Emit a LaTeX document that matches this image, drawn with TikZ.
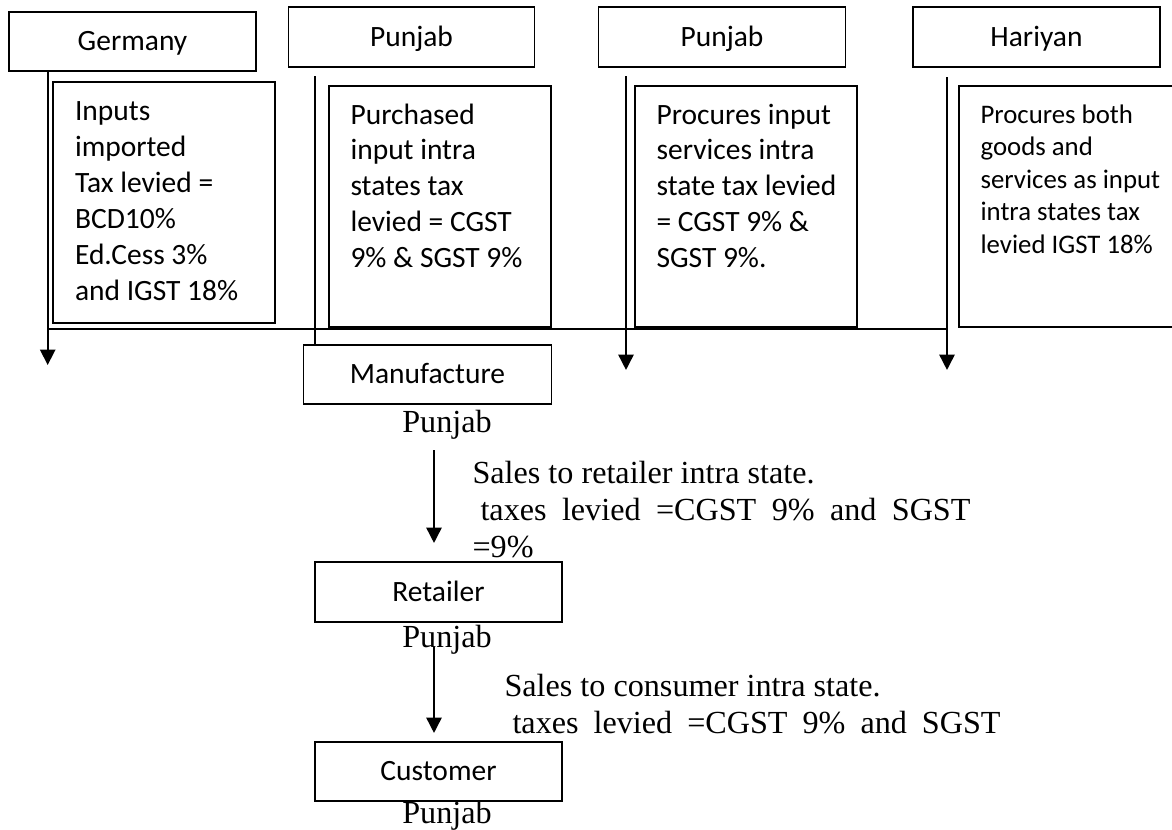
\documentclass[tikz,border=0pt]{standalone}
\usepackage{fontspec}
\setmainfont{Liberation Serif}
\newfontfamily\calib{Carlito}
\usetikzlibrary{arrows.meta}
% one drawing unit, used for all positions and box sizes
\def\pxu{0.3731pt}

\begin{document}
\begin{tikzpicture}[x=0.3731pt, y=-0.3731pt,
  frame/.style={draw, line width=0.6pt, inner sep=0pt},
  lab/.style={font=\calib\fontsize{11}{13.42}\selectfont, text height=6.95pt, text depth=0pt},
  txt/.style={anchor=base west, inner sep=0pt, font=\calib\fontsize{11}{13.42}\selectfont},
  txtsmall/.style={anchor=base west, inner sep=0pt, font=\calib\fontsize{10}{12.13}\selectfont},
  serif/.style={inner sep=0pt, font=\fontsize{12}{13.8}\selectfont},
  conn/.style={line width=0.85pt},
  arrow/.style={conn, -{Triangle[length=5.7pt, width=5.6pt]}}]

\useasboundingbox (0,0) rectangle (1172,829);

% origin and supplier states
\node[frame, lab, minimum width=247*\pxu, minimum height=59*\pxu] (ger)  at (132.5,41.5) {Germany};
\node[frame, lab, minimum width=246*\pxu, minimum height=60*\pxu] (pun1) at (411.5,37)   {Punjab};
\node[frame, lab, minimum width=247*\pxu, minimum height=60*\pxu] (pun2) at (722,37)     {Punjab};
\node[frame, lab, minimum width=247*\pxu, minimum height=60*\pxu] (har)  at (1036.5,37)  {Hariyan};

% tax description boxes (the last one runs past the right edge of the page)
\node[frame, minimum width=222*\pxu, minimum height=241*\pxu] (inp)  at (164,202.5)    {};
\node[frame, minimum width=222*\pxu, minimum height=241*\pxu] (pur)  at (440,206.5)    {};
\node[frame, minimum width=222*\pxu, minimum height=241*\pxu] (proc) at (746,206.5)    {};
\node[frame, minimum width=227*\pxu, minimum height=241*\pxu] (both) at (1072.5,206.5) {};

\node[txt] (inpT) at (74.5,120.5) {\vtop{\hbox{Inputs}\hbox{imported}\hbox{Tax levied =}\hbox{BCD10\%}\hbox{Ed.Cess 3\%}\hbox{and IGST 18\%}}};
\node[txt] (purT) at (350,124) {\vtop{\hbox{Purchased}\hbox{input intra}\hbox{states tax}\hbox{levied = CGST}\hbox{9\% \& SGST 9\%}}};
\node[txt] (procT) at (656,124) {\vtop{\hbox{Procures input}\hbox{services intra}\hbox{state tax levied}\hbox{= CGST 9\% \&}\hbox{SGST 9\%.}}};
\node[txtsmall] (bothT) at (980,123) {\vtop{\hbox{Procures both}\hbox{goods and}\hbox{services as input}\hbox{intra states tax}\hbox{levied IGST 18\%}}};

% supply chain in Punjab
\node[frame, lab, minimum width=248*\pxu, minimum height=59*\pxu] (man) at (427.5,374.5) {Manufacture};
\node[frame, lab, minimum width=247*\pxu, minimum height=60*\pxu] (ret) at (438.5,592)   {Retailer};
\node[frame, lab, minimum width=247*\pxu, minimum height=59*\pxu] (cus) at (438.5,771.5) {Customer};

\node[serif, anchor=base] (manP) at (447,432) {Punjab};
\node[serif, anchor=base] (retP) at (447,647) {Punjab};
\node[serif, anchor=base] (cusP) at (447,823) {Punjab};

% sale descriptions
\node[serif, anchor=base west] (s1a) at (472,483) {Sales to retailer intra state.};
\node[serif, anchor=base west] (s1b) at (480,520) {\makebox[182.8pt][s]{taxes levied =CGST 9\% and SGST}};
\node[serif, anchor=base west] (s1c) at (472,557) {=9\%};
\node[serif, anchor=base west] (s2a) at (504,696) {Sales to consumer intra state.};
\node[serif, anchor=base west] (s2b) at (512,733) {\makebox[182.1pt][s]{taxes levied =CGST 9\% and SGST}};

% connector end points
\coordinate (gerEnd) at (47.7,365);
\coordinate (p1Top)  at (315,76);
\coordinate (p2Top)  at (626,76);
\coordinate (p2End)  at (626,370);
\coordinate (hTop)   at (947,77);
\coordinate (hEnd)   at (947,370);
\coordinate (hl)     at (47.7,329);
\coordinate (hr)     at (947,329);
\coordinate (a1s)    at (434,450);
\coordinate (a1e)    at (434,543);
\coordinate (a2s)    at (434,647);
\coordinate (a2e)    at (434,733);

% flows of inputs
\draw[arrow] (ger.south -| gerEnd) -- (gerEnd);
\draw[conn]  (p1Top) -- (p1Top |- man.north);
\draw[arrow] (p2Top) -- (p2End);
\draw[arrow] (hTop) -- (hEnd);
\draw[conn]  (hl) -- (hr);

% flows of sales
\draw[arrow] (a1s) -- (a1e);
\draw[arrow] (a2s) -- (a2e);

\end{tikzpicture}
\end{document}
